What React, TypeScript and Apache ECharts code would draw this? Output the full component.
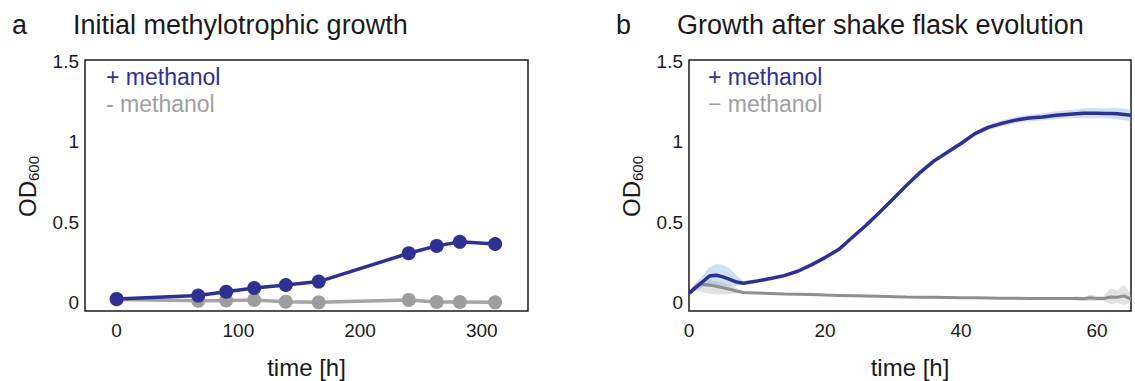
import React, { useEffect, useRef } from "react";
import * as echarts from "echarts";

const FONT = "'Liberation Sans', Arial, Helvetica, sans-serif";
const BLUE = "#2e3192";
const GRAY_A = "#9d9d9d";
const GRAY_B = "#8e8e8e";

// Panel a: initial methylotrophic growth (sampled time points)
const timeA = [0, 67, 90, 113, 139, 166, 240, 263, 282, 311];
const plusA = [0.023, 0.044, 0.068, 0.091, 0.11, 0.131, 0.307, 0.353, 0.378, 0.365];
const minusA = [0.02, 0.012, 0.013, 0.017, 0.006, 0.002, 0.017, 0.004, 0.004, 0.002];

// Panel b: growth after shake flask evolution (plate reader curves)
const timeB = [0, 1, 2, 3, 4, 5, 6, 7, 8, 10, 12, 14, 16, 18, 20, 22, 24, 26, 28, 30, 32, 34, 36, 38, 40, 42, 44, 46, 48, 50, 52, 54, 56, 57, 58, 59, 60, 61, 62, 63, 64, 65];
const plusB = [0.058, 0.095, 0.13, 0.165, 0.17, 0.16, 0.145, 0.128, 0.12, 0.134, 0.15, 0.168, 0.195, 0.235, 0.28, 0.33, 0.405, 0.48, 0.56, 0.645, 0.73, 0.81, 0.88, 0.935, 0.99, 1.05, 1.09, 1.115, 1.135, 1.148, 1.155, 1.165, 1.172, 1.175, 1.178, 1.178, 1.178, 1.177, 1.177, 1.175, 1.17, 1.165];
const plusBLo = [0.055, 0.075, 0.095, 0.1, 0.1, 0.1, 0.1, 0.105, 0.11, 0.126, 0.142, 0.16, 0.187, 0.227, 0.272, 0.322, 0.397, 0.472, 0.552, 0.637, 0.722, 0.802, 0.872, 0.923, 0.978, 1.036, 1.072, 1.095, 1.115, 1.128, 1.132, 1.14, 1.146, 1.147, 1.148, 1.146, 1.146, 1.145, 1.143, 1.14, 1.134, 1.128];
const plusBHi = [0.061, 0.12, 0.17, 0.22, 0.24, 0.235, 0.21, 0.17, 0.135, 0.142, 0.158, 0.176, 0.203, 0.243, 0.288, 0.338, 0.413, 0.488, 0.568, 0.653, 0.738, 0.818, 0.888, 0.947, 1.002, 1.064, 1.108, 1.135, 1.155, 1.168, 1.178, 1.19, 1.198, 1.203, 1.208, 1.21, 1.21, 1.209, 1.211, 1.21, 1.206, 1.202];
const minusB = [0.058, 0.1, 0.115, 0.11, 0.102, 0.093, 0.083, 0.072, 0.063, 0.06, 0.057, 0.054, 0.052, 0.05, 0.047, 0.045, 0.043, 0.041, 0.039, 0.037, 0.035, 0.034, 0.033, 0.032, 0.031, 0.03, 0.029, 0.028, 0.027, 0.026, 0.026, 0.025, 0.025, 0.026, 0.024, 0.03, 0.026, 0.025, 0.035, 0.034, 0.042, 0.022];
const minusBLo = [0.055, 0.075, 0.065, 0.055, 0.05, 0.05, 0.052, 0.058, 0.058, 0.056, 0.053, 0.05, 0.048, 0.046, 0.043, 0.041, 0.039, 0.037, 0.035, 0.033, 0.031, 0.03, 0.029, 0.028, 0.027, 0.026, 0.025, 0.024, 0.023, 0.022, 0.021, 0.02, 0.019, 0.012, 0.014, 0.008, 0.012, 0.01, -0.01, 0.0, -0.015, 0.0];
const minusBHi = [0.061, 0.125, 0.14, 0.14, 0.135, 0.125, 0.112, 0.09, 0.068, 0.064, 0.061, 0.058, 0.056, 0.054, 0.051, 0.049, 0.047, 0.045, 0.043, 0.041, 0.039, 0.038, 0.037, 0.036, 0.035, 0.034, 0.033, 0.032, 0.031, 0.03, 0.031, 0.031, 0.032, 0.04, 0.034, 0.05, 0.04, 0.042, 0.09, 0.075, 0.11, 0.05];

const xTicksA = [0, 100, 200, 300];
const xTicksB = [0, 20, 40, 60];
const yTicks = [0, 0.5, 1, 1.5];

const zip = (xs: number[], ys: number[]) => xs.map((x, i) => [x, ys[i]]);

export default function App() {
  const ref = useRef<HTMLDivElement>(null);

  useEffect(() => {
    if (!ref.current) return;
    const chart = echarts.init(ref.current, null, { renderer: "svg" });

    const labelStyle = { fontSize: 19, color: "#1a1a1a", fontFamily: FONT };
    const mkX = (gridIndex: number, min: number, max: number, ticks: number[]) => ({
      type: "value",
      gridIndex,
      min,
      max,
      axisLine: { show: false },
      axisTick: { show: false },
      splitLine: { show: false },
      axisLabel: { ...labelStyle, margin: 10, customValues: ticks },
    });
    const mkY = (gridIndex: number) => ({
      type: "value",
      gridIndex,
      min: -0.052,
      max: 1.509,
      axisLine: { show: false },
      axisTick: { show: false },
      splitLine: { show: false },
      axisLabel: { ...labelStyle, margin: 6, customValues: yTicks, formatter: (v: number) => String(v) },
    });

    // confidence band drawn as one polygon through the axes' own coordinate mapping
    const band = (name: string, lo: number[], hi: number[], color: string) => ({
      name,
      type: "custom",
      xAxisIndex: 1,
      yAxisIndex: 1,
      silent: true,
      clip: true,
      data: timeB.map((t, i) => [t, lo[i], hi[i]]),
      encode: { x: 0, y: [1, 2] },
      renderItem: (params: any, api: any) => {
        if (params.dataIndex !== 0) return null;
        const upper = timeB.map((t, i) => api.coord([t, hi[i]]));
        const lower = timeB.map((t, i) => api.coord([t, lo[i]])).reverse();
        return {
          type: "polygon",
          shape: { points: upper.concat(lower) },
          style: { fill: color, stroke: "none" },
        };
      },
    });

    const text = (t: string, x: number, y: number, size: number, fill: string, align = "left") => ({
      type: "text",
      x,
      y,
      style: { text: t, fontSize: size, fontFamily: FONT, fill, align, verticalAlign: "middle" },
    });
    const odLabel = (x: number) => ({
      type: "group",
      x,
      y: 186,
      rotation: Math.PI / 2,
      children: [
        { type: "text", x: -31, y: 0, style: { text: "OD", fontSize: 24, fontFamily: FONT, fill: "#1a1a1a", align: "left", verticalAlign: "middle" } },
        { type: "text", x: 5, y: 6, style: { text: "600", fontSize: 15, fontFamily: FONT, fill: "#1a1a1a", align: "left", verticalAlign: "middle" } },
      ],
    });

    chart.setOption({
      animation: false,
      backgroundColor: "#ffffff",
      grid: [
        { left: 85, top: 60, width: 443, height: 251, show: true, borderColor: "#1a1a1a", borderWidth: 1.5, backgroundColor: "transparent" },
        { left: 689, top: 60, width: 442, height: 251, show: true, borderColor: "#1a1a1a", borderWidth: 1.5, backgroundColor: "transparent" },
      ],
      xAxis: [mkX(0, -26, 338, xTicksA), mkX(1, 0, 65, xTicksB)],
      yAxis: [mkY(0), mkY(1)],
      series: [
        {
          name: "- methanol (a)",
          type: "line",
          xAxisIndex: 0,
          yAxisIndex: 0,
          data: zip(timeA, minusA),
          symbol: "circle",
          symbolSize: 14,
          lineStyle: { width: 3.5, color: "#a5a5a5" },
          itemStyle: { color: GRAY_A },
        },
        {
          name: "+ methanol (a)",
          type: "line",
          xAxisIndex: 0,
          yAxisIndex: 0,
          data: zip(timeA, plusA),
          symbol: "circle",
          symbolSize: 14,
          lineStyle: { width: 3.5, color: BLUE },
          itemStyle: { color: BLUE },
        },
        band("- band", minusBLo, minusBHi, "rgba(150,150,150,0.28)"),
        {
          name: "- methanol (b)",
          type: "line",
          xAxisIndex: 1,
          yAxisIndex: 1,
          data: zip(timeB, minusB),
          symbol: "none",
          lineStyle: { width: 3, color: GRAY_B },
        },
        band("+ band", plusBLo, plusBHi, "rgba(120,165,220,0.35)"),
        {
          name: "+ methanol (b)",
          type: "line",
          xAxisIndex: 1,
          yAxisIndex: 1,
          data: zip(timeB, plusB),
          symbol: "none",
          lineStyle: { width: 3.5, color: BLUE },
        },
      ],
      graphic: [
        text("a", 12, 25, 27, "#1a1a1a"),
        text("Initial methylotrophic growth", 73, 25, 27, "#1a1a1a"),
        text("b", 616, 25, 27, "#1a1a1a"),
        text("Growth after shake flask evolution", 677, 25, 27, "#1a1a1a"),
        text("+ methanol", 106, 77, 23, BLUE),
        text("- methanol", 106, 104, 23, "#a0a0a0"),
        text("+ methanol", 708, 77, 23, BLUE),
        text("\u2212 methanol", 708, 104, 23, "#a0a0a0"),
        text("time [h]", 306.5, 367, 24, "#1a1a1a", "center"),
        text("time [h]", 910, 367, 24, "#1a1a1a", "center"),
        odLabel(27),
        odLabel(631),
      ],
    });

    return () => chart.dispose();
  }, []);

  return (
    <div
      ref={ref}
      style={{ position: "fixed", left: 0, top: 0, width: 1135, height: 381, background: "#fff" }}
    />
  );
}
